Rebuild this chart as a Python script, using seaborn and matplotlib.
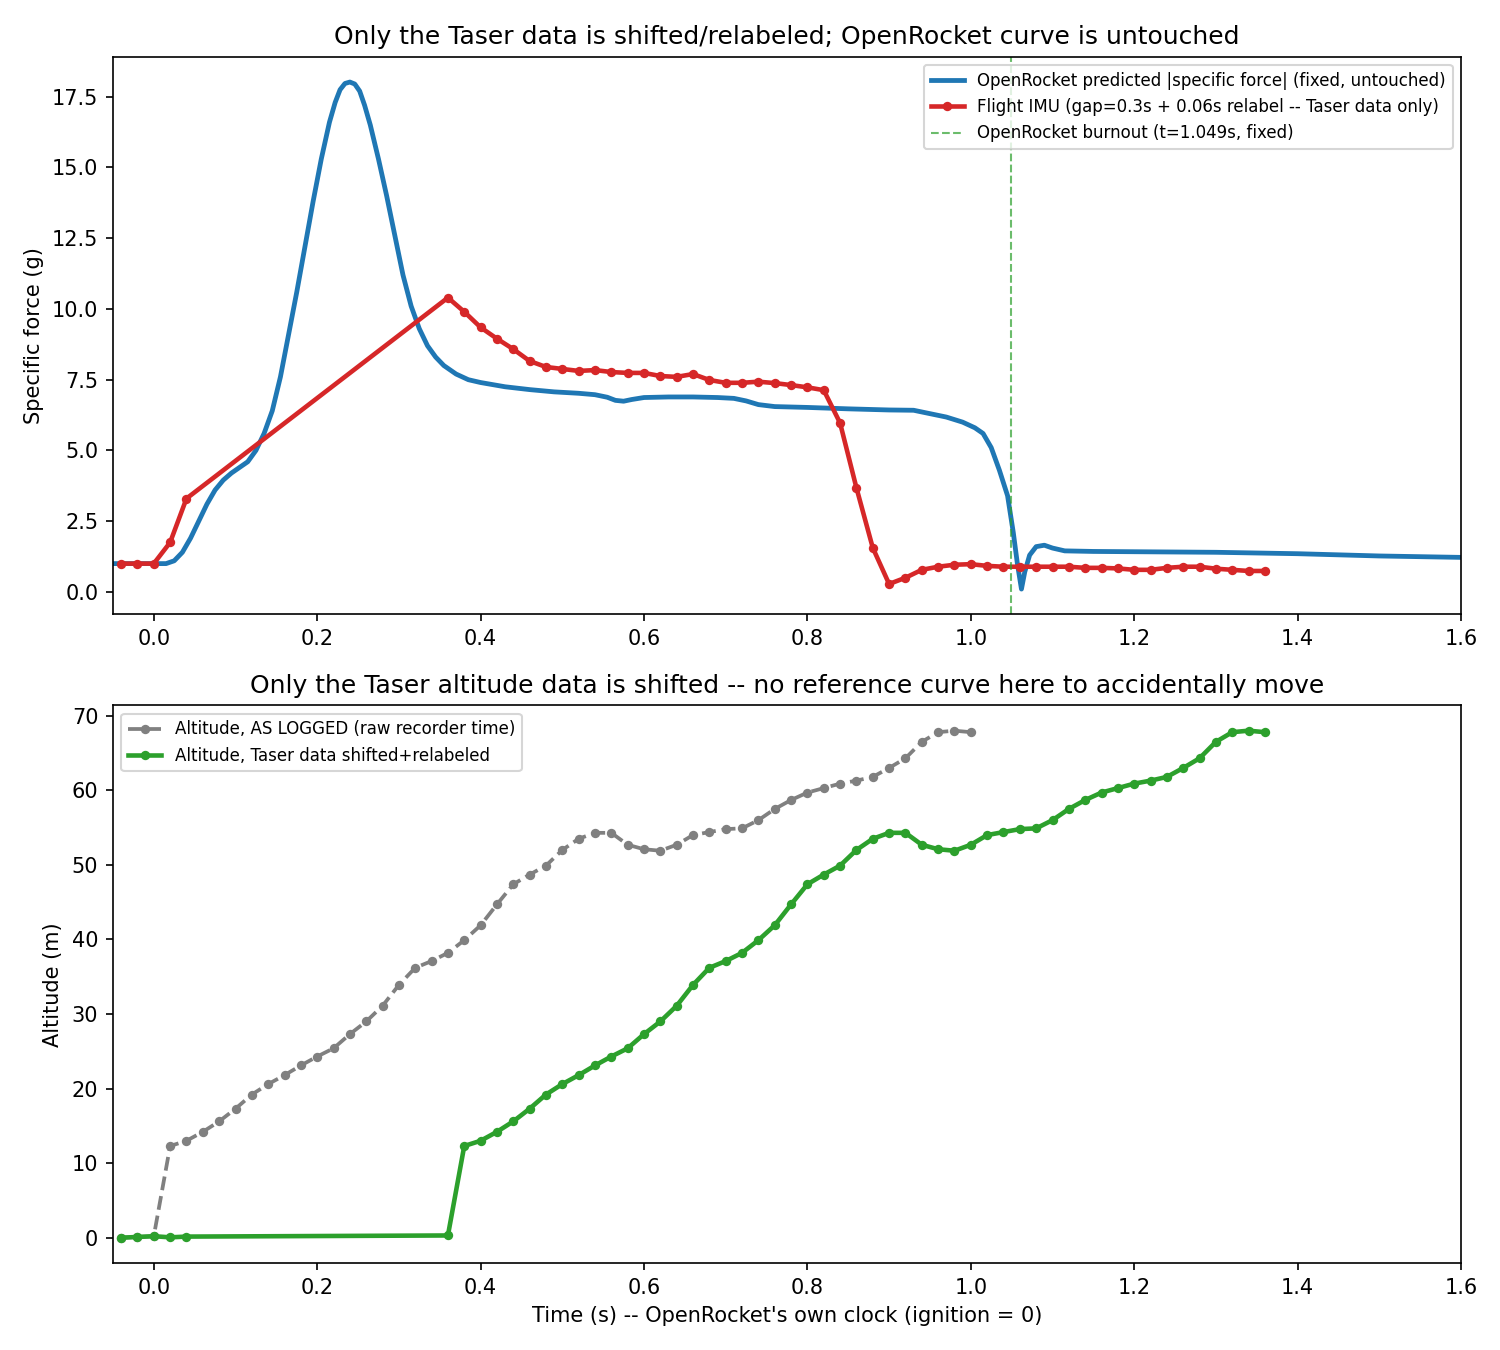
import numpy as np
import pandas as pd
import seaborn as sns
import matplotlib.pyplot as plt

# OpenRocket predicted |specific force|
or_time = [-0.05, -0.02, 0.0, 0.015, 0.025, 0.035, 0.045, 0.055, 0.065, 0.075, 0.085, 0.095,
           0.105, 0.115, 0.125, 0.135, 0.145, 0.155, 0.165, 0.175, 0.185, 0.195, 0.205, 0.215,
           0.222, 0.228, 0.234, 0.24, 0.246, 0.252, 0.258, 0.265, 0.275, 0.285, 0.295, 0.305,
           0.315, 0.325, 0.335, 0.345, 0.355, 0.37, 0.385, 0.40, 0.43, 0.46, 0.49, 0.52, 0.54,
           0.555, 0.565, 0.575, 0.585, 0.60, 0.63, 0.66, 0.69, 0.71, 0.725, 0.74, 0.76, 0.80,
           0.85, 0.90, 0.93, 0.95, 0.97, 0.99, 1.005, 1.015, 1.025, 1.035, 1.045, 1.052, 1.057,
           1.062, 1.066, 1.072, 1.08, 1.09, 1.10, 1.115, 1.15, 1.2, 1.3, 1.4, 1.5, 1.6]
or_force = [1.0, 1.0, 1.0, 1.0, 1.1, 1.4, 1.9, 2.5, 3.1, 3.6, 3.95, 4.2,
            4.4, 4.6, 5.0, 5.6, 6.4, 7.6, 9.1, 10.6, 12.2, 13.8, 15.3, 16.6,
            17.3, 17.75, 17.97, 18.02, 17.95, 17.7, 17.2, 16.5, 15.3, 14.0, 12.6, 11.2,
            10.1, 9.3, 8.7, 8.3, 8.0, 7.7, 7.5, 7.4, 7.25, 7.15, 7.07, 7.02, 6.97,
            6.88, 6.77, 6.74, 6.8, 6.87, 6.89, 6.89, 6.87, 6.84, 6.75, 6.62, 6.55, 6.52,
            6.47, 6.43, 6.42, 6.3, 6.18, 6.0, 5.8, 5.6, 5.1, 4.3, 3.4, 2.1, 1.0,
            0.1, 0.7, 1.3, 1.6, 1.65, 1.55, 1.45, 1.43, 1.42, 1.4, 1.35, 1.27, 1.22]

# Flight IMU, Taser data shifted + relabeled
imu_time = [-0.04, -0.02, 0.0, 0.02, 0.04] + [round(0.36 + 0.02 * i, 2) for i in range(51)]
imu_force = [1.0, 1.0, 1.0, 1.75, 3.3,
             10.4, 9.9, 9.35, 8.95, 8.58, 8.16, 7.95, 7.88, 7.81, 7.84, 7.77, 7.74, 7.74,
             7.63, 7.6, 7.7, 7.49, 7.39, 7.39, 7.43, 7.38, 7.31, 7.23, 7.13, 5.97, 3.68,
             1.56, 0.28, 0.5, 0.78, 0.89, 0.96, 0.98, 0.92, 0.89, 0.89, 0.89, 0.89, 0.89,
             0.85, 0.85, 0.83, 0.78, 0.78, 0.85, 0.89, 0.89, 0.82, 0.78, 0.74, 0.74]

# Altitude
alt_flight = [12.3, 13.0, 14.2, 15.6, 17.3, 19.2, 20.6, 21.8, 23.1, 24.3, 25.4, 27.3, 29.0,
              31.1, 33.9, 36.2, 37.1, 38.2, 39.9, 41.9, 44.7, 47.4, 48.7, 49.9, 52.0, 53.5,
              54.3, 54.3, 52.7, 52.1, 51.9, 52.7, 54.0, 54.4, 54.8, 54.9, 56.0, 57.5, 58.7,
              59.7, 60.3, 60.9, 61.3, 61.8, 63.0, 64.3, 66.5, 67.8, 68.0, 67.8]
raw_time = [round(-0.04 + 0.02 * i, 2) for i in range(53)]
raw_alt = [0.0, 0.1, 0.2] + alt_flight
shift_time = [-0.04, -0.02, 0.0, 0.02, 0.04] + [round(0.36 + 0.02 * i, 2) for i in range(51)]
shift_alt = [0.0, 0.1, 0.2, 0.05, 0.15, 0.3] + alt_flight

burnout_t = 1.049

df_or = pd.DataFrame({'t': or_time, 'f': or_force})
df_imu = pd.DataFrame({'t': imu_time, 'f': imu_force})
df_raw = pd.DataFrame({'t': raw_time, 'alt': raw_alt})
df_shift = pd.DataFrame({'t': shift_time, 'alt': shift_alt})

fig, (ax1, ax2) = plt.subplots(2, 1, figsize=(10, 9), dpi=150)
fig.subplots_adjust(left=0.0753, right=0.974, top=0.958, bottom=0.0644, hspace=0.163)

sns.lineplot(data=df_or, x='t', y='f', ax=ax1, color='tab:blue', linewidth=2.3,
             errorbar=None, label='OpenRocket predicted |specific force| (fixed, untouched)')
sns.lineplot(data=df_imu, x='t', y='f', ax=ax1, color='tab:red', linewidth=2.2,
             marker='o', markersize=4.5, markeredgewidth=0, errorbar=None,
             label='Flight IMU (gap=0.3s + 0.06s relabel -- Taser data only)')
ax1.axvline(burnout_t, color='tab:green', linestyle='--', linewidth=1, alpha=0.7,
            label=f'OpenRocket burnout (t={burnout_t}s, fixed)')
ax1.set_xlim(-0.05, 1.6)
ax1.set(xlabel='', ylabel='Specific force (g)')
ax1.set_title('Only the Taser data is shifted/relabeled; OpenRocket curve is untouched', fontsize=12)
ax1.legend(loc='upper right', fontsize=8)

sns.lineplot(data=df_raw, x='t', y='alt', ax=ax2, color='gray', linewidth=1.8, linestyle='--',
             marker='o', markersize=4.5, markeredgewidth=0, errorbar=None,
             label='Altitude, AS LOGGED (raw recorder time)')
sns.lineplot(data=df_shift, x='t', y='alt', ax=ax2, color='tab:green', linewidth=2.2,
             marker='o', markersize=4.5, markeredgewidth=0, errorbar=None,
             label='Altitude, Taser data shifted+relabeled')
ax2.set_xlim(-0.05, 1.6)
ax2.set(xlabel="Time (s) -- OpenRocket's own clock (ignition = 0)", ylabel='Altitude (m)')
ax2.set_title('Only the Taser altitude data is shifted -- no reference curve here to accidentally move',
              fontsize=12)
ax2.legend(loc='upper left', fontsize=8)

fig.savefig('out.png', dpi=150)
